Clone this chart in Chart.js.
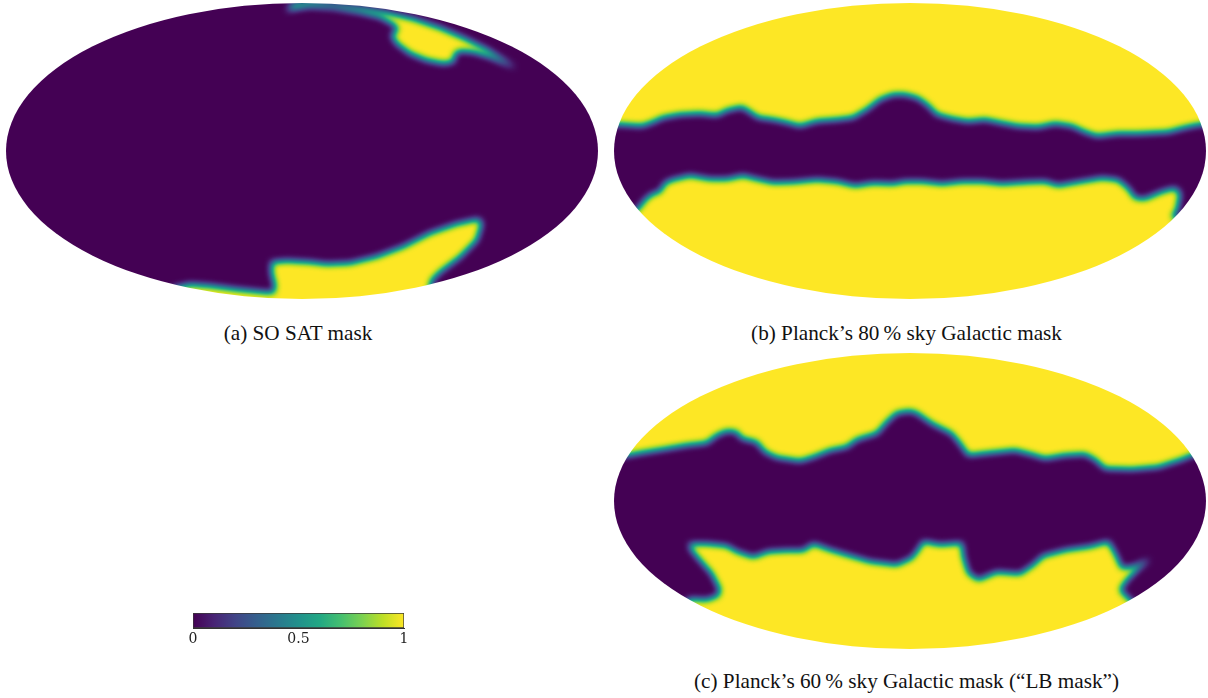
<!DOCTYPE html>
<html>
<head>
<meta charset="utf-8">
<title>Sky masks</title>
<script src="https://cdn.jsdelivr.net/npm/chart.js@4"></script>
<style>
html, body { margin: 0; padding: 0; background: #fff; overflow: hidden; width: 1208px; height: 698px; }
.box { position: absolute; }
.caption { position: absolute; font-family: "Liberation Serif", serif; font-size: 21.2px; color: #111; white-space: nowrap; transform: translateX(-50%); line-height: 24px; }
</style>
</head>
<body>
<div class="box" style="left:-2px;top:-5px;width:608px;height:312px"><canvas id="mapA"></canvas></div>
<div class="box" style="left:606px;top:-5px;width:608px;height:312px"><canvas id="mapB"></canvas></div>
<div class="box" style="left:606px;top:345px;width:608px;height:312px"><canvas id="mapC"></canvas></div>
<div class="box" style="left:183px;top:605px;width:231px;height:46px"><canvas id="colorbar"></canvas></div>
<div class="caption" style="left:298px;top:321px">(a) SO SAT mask</div>
<div class="caption" style="left:906.5px;top:321px">(b) Planck’s 80&#8201;% sky Galactic mask</div>
<div class="caption" style="left:906.5px;top:669px">(c) Planck’s 60&#8201;% sky Galactic mask (“LB mask”)</div>
<script>
// mask outlines, projected coords of each map (centre 0,0)
// mask = 1 inside them, 0 outside

// (a) SO SAT
const soNorth = [[-15.3,140.5],[-5.3,143],[8,145],[31.3,143.5],[58,139],[78,134.3],[91.3,127],[96.3,121.7],[89.7,116],
  [94.7,107.7],[108,97.7],[124.7,91],[141.3,87.7],[151.3,89.3],[153,97.7],[158,100.3],[171.3,99.3],[188,94.3],[214,83],
  [184.7,101.5],[161.3,113],[138,123],[111.3,132],[84.7,138.3],[61.3,142.5],[34.7,146],[8,149],[-8.7,147]];
const soSouth = [[-128.7,-137.3],[-112,-133.5],[-92,-135],[-65.3,-138.5],[-35.3,-141.5],[-28,-141.5],[-27,-134],[-30.3,-122.3],
  [-30.3,-111.3],[-15.3,-110],[8,-111.3],[24.7,-113.3],[48,-112.3],[74.7,-105.7],[101.3,-95.7],[128,-82.3],[154.7,-73],
  [176.3,-68.3],[179.7,-72.3],[174.7,-89],[158,-105.7],[138,-120.7],[129.7,-129],[128,-135.7],[128,-145.7],
  [60,-165],[-60,-165],[-128.7,-150]];

// (b) Planck 80 %
const planck80North = [[-312,27],[-292,26.7],[-280,26],[-268,25.3],[-258,28.7],[-247,33.7],[-230,36.7],[-210,37.7],[-193,36],
  [-183,41],[-168,44.3],[-160,39.3],[-152,33.7],[-137,31.7],[-125,29.3],[-110,25.3],[-93,30.3],[-73,31.7],[-57,33.7],[-43,42],
  [-30,52],[-17,56.7],[-5,56.7],[8,53.3],[18,46],[27,36.7],[42,32.7],[58,30],[75,31.7],[92,28.3],[108,25.3],[128,24.3],[145,27.7],
  [162,25.3],[175,19.3],[187,15.3],[208,17.7],[228,17.7],[258,19.3],[275,23.7],[290,26.7],[312,27],[312,170],[-312,170]];
const planck80South = [[-277,-62.3],[-270,-55.7],[-265,-49],[-258,-43.3],[-250,-40.7],[-245,-32.3],[-238,-29],[-220,-24.7],[-200,-28.3],
  [-183,-28.3],[-167,-24.7],[-153,-28.3],[-137,-31.7],[-117,-31.3],[-93,-29],[-73,-30.7],[-55,-35],[-37,-32.3],[-17,-33],[-5,-30.7],
  [12,-30.7],[32,-33],[52,-30.7],[72,-30.7],[92,-33],[118,-31.3],[135,-30.7],[148,-34.7],[168,-31.3],[192,-27.3],[208,-29],[218,-37.3],
  [225,-47.3],[235,-48],[252,-40.7],[265,-37.3],[270,-42.3],[267,-59],[262,-65.7],[275,-72],[275,-170],[-277,-170]];

// (c) Planck 60 % (LB)
const planck60North = [[-312,44],[-281.7,46],[-266.7,48.7],[-246.7,52],[-223.3,56],[-203.3,58.3],[-193.3,66],[-183.3,70.3],[-173.3,69.3],
  [-168.3,62.7],[-153.3,59.3],[-145,49.3],[-133.3,43.7],[-110,40.3],[-96.7,44.3],[-80,51],[-63.3,54.3],[-53.3,61.7],[-33.3,67.7],
  [-23.3,79.3],[-13.3,88.3],[0,90.3],[6.7,88.3],[21.7,77.7],[41.7,67.7],[50,57.7],[58.3,46],[78.3,48.3],[105,51],[121.7,46.7],[135,42.7],
  [155,46],[175,47],[185,41.7],[195,32.7],[221.7,32],[248.3,34.3],[271.7,41.7],[281.7,46],[312,52],[312,170],[-312,170]];
const planck60South = [[-226.7,-104],[-220,-98],[-203.3,-99],[-191.7,-94.7],[-190,-88.3],[-198.3,-72.3],[-210,-59],[-218.3,-49],[-220.7,-43],
  [-203.3,-43],[-183.3,-45],[-173.3,-50.7],[-156.7,-56.3],[-141.7,-50.7],[-123.3,-49.7],[-106.7,-49.7],[-96.7,-43],[-80,-49],[-63.3,-54],
  [-40,-60.7],[-13.3,-64],[1.7,-57.3],[8.3,-49],[13.3,-40.7],[30,-44],[51.7,-42.3],[53.3,-55.7],[58.3,-72.3],[68.3,-79],[86.7,-71.3],
  [110,-73],[123.3,-64],[133.3,-55],[156.7,-49],[180,-45.7],[198.3,-40.7],[205,-52.3],[211.7,-67.3],[223.3,-65.7],[240,-58.3],[228.3,-67.3],
  [216.7,-79],[210,-89],[220,-99],[235,-112],[235,-170],[-226.7,-170]];

// viridis, 0 to 1
const viridisStops = ['#440154','#482475','#414487','#355f8d','#2a788e','#21918c','#22a884','#44bf70','#7ad151','#bddf26','#fde725'];
const colorbarTicks = [0, 0.5, 1];
const colorbarRange = [[0, 1]];

const skyHalfWidth = 296;
const skyHalfHeight = 148;
const smoothing = 3.8;

function hexRgb(h) {
    return [1, 3, 5].map(function(i) { return parseInt(h.substr(i, 2), 16); });
}

// 256 entries look up table
const lut = [];
for (var i = 0; i < 256; i++) {
    var p = i / 255 * (viridisStops.length - 1);
    var k = Math.min(Math.floor(p), viridisStops.length - 2);
    var c0 = hexRgb(viridisStops[k]), c1 = hexRgb(viridisStops[k + 1]);
    lut.push([0, 1, 2].map(function(n) { return c0[n] + (c1[n] - c0[n]) * (p - k); }));
}

// draws the mask in gray with a blur, then turns the gray into viridis, cut to the ellipse
const skyMask = {
    id: 'skyMask',
    beforeDraw: function(chart) {
        const ctx = chart.ctx;
        ctx.save();
        ctx.fillStyle = '#000';
        ctx.fillRect(0, 0, chart.width, chart.height);
        ctx.restore();
        ctx.filter = 'blur(' + smoothing + 'px)';
    },
    afterDraw: function(chart) {
        const ctx = chart.ctx;
        ctx.filter = 'none';
        const img = ctx.getImageData(0, 0, chart.canvas.width, chart.canvas.height);
        const d = img.data;
        for (var j = 0; j < d.length; j += 4) {
            var c = lut[d[j]];
            d[j] = c[0]; d[j + 1] = c[1]; d[j + 2] = c[2]; d[j + 3] = 255;
        }
        ctx.putImageData(img, 0, 0);
        const xs = chart.scales.x, ys = chart.scales.y;
        ctx.save();
        ctx.globalCompositeOperation = 'destination-in';
        ctx.beginPath();
        ctx.ellipse(xs.getPixelForValue(0), ys.getPixelForValue(0),
            xs.getPixelForValue(skyHalfWidth) - xs.getPixelForValue(0),
            ys.getPixelForValue(0) - ys.getPixelForValue(skyHalfHeight), 0, 0, Math.PI * 2);
        ctx.fill();
        ctx.restore();
    }
};

function maskData(outline) {
    return {
        data: outline.map(function(e) { return {x: e[0], y: e[1]}; }),
        showLine: true,
        fill: 'shape',
        backgroundColor: '#fff',
        borderColor: 'rgba(0,0,0,0)',
        borderWidth: 0,
        pointRadius: 0,
        tension: 0
    };
}

function drawMap(id, outlines) {
    return new Chart(document.getElementById(id), {
        type: 'scatter',
        data: { datasets: outlines.map(maskData) },
        options: {
            responsive: true,
            maintainAspectRatio: false,
            animation: false,
            events: [],
            layout: { padding: 0 },
            plugins: { legend: { display: false }, tooltip: { enabled: false } },
            scales: {
                x: { display: false, min: -304, max: 304 },
                y: { display: false, min: -156, max: 156 }
            }
        },
        plugins: [skyMask]
    });
}

drawMap('mapA', [soNorth, soSouth]);
drawMap('mapB', [planck80North, planck80South]);
drawMap('mapC', [planck60North, planck60South]);

// colorbar
function barGradient(context) {
    const area = context.chart.chartArea;
    if (!area) return viridisStops[5];
    const g = context.chart.ctx.createLinearGradient(area.left, 0, area.right, 0);
    viridisStops.forEach(function(col, n) { g.addColorStop(n / (viridisStops.length - 1), col); });
    return g;
}

new Chart(document.getElementById('colorbar'), {
    type: 'bar',
    data: {
        labels: [''],
        datasets: [{
            data: colorbarRange,
            backgroundColor: barGradient,
            borderColor: '#3a3a3a',
            borderWidth: 1,
            borderSkipped: false,
            barPercentage: 1,
            categoryPercentage: 1
        }]
    },
    options: {
        indexAxis: 'y',
        responsive: true,
        maintainAspectRatio: false,
        animation: false,
        events: [],
        layout: { padding: { left: 10, right: 10, top: 8, bottom: 8 } },
        plugins: { legend: { display: false }, tooltip: { enabled: false } },
        scales: {
            x: {
                min: 0,
                max: 1,
                afterBuildTicks: function(axis) {
                    axis.ticks = colorbarTicks.map(function(v) { return {value: v}; });
                },
                grid: { display: false, drawTicks: true, tickLength: 2, tickColor: '#333' },
                border: { display: true, color: '#333', width: 1 },
                ticks: {
                    color: '#222',
                    maxRotation: 0,
                    autoSkip: false,
                    padding: 1,
                    font: { family: 'DejaVu Serif', size: 14 },
                    callback: function(v) { return String(v); }
                }
            },
            y: {
                display: true,
                grid: { display: false, drawTicks: false },
                border: { display: false },
                ticks: { display: false }
            }
        }
    }
});
</script>
</body>
</html>
